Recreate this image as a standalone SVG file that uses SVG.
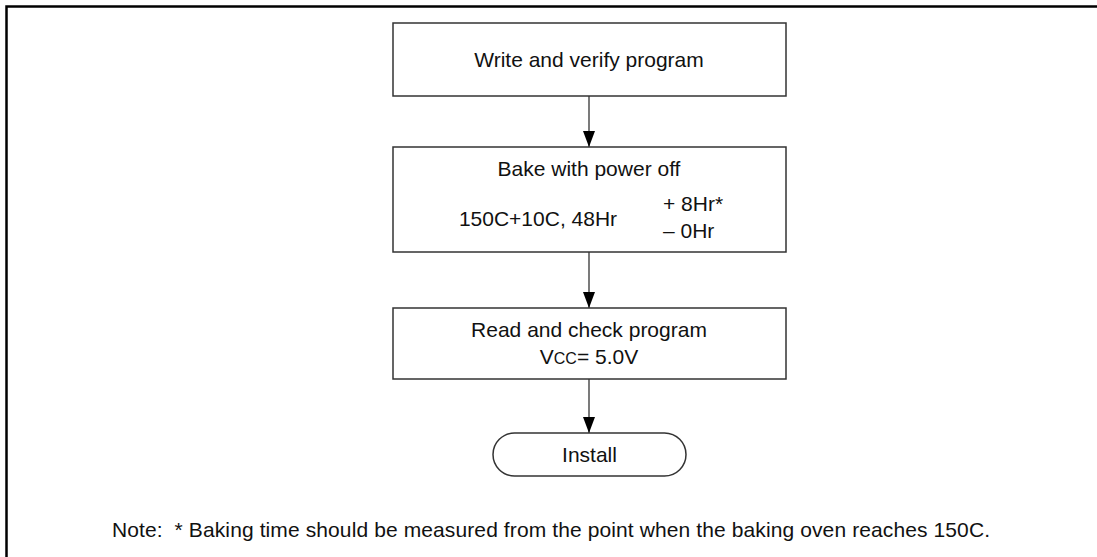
<svg xmlns="http://www.w3.org/2000/svg" width="1097" height="557" viewBox="0 0 1097 557">
<style>
.box{fill:#fff;stroke:#333;stroke-width:1.5}
.t{font-family:"Liberation Sans",Arial,sans-serif;font-size:21px;fill:#111}
.c{stroke:#333;stroke-width:1.3;fill:none}
</style>
<defs>
<marker id="ah" viewBox="0 0 16 12" refX="16" refY="6" markerWidth="16" markerHeight="12" markerUnits="userSpaceOnUse" orient="auto">
<path d="M0,0 L16,6 L0,12 Z" fill="#000"/>
</marker>
</defs>
<rect width="1097" height="557" fill="#fff"/>
<g id="frame">
<path d="M6.5,557 V6.5 H1097" fill="none" stroke="#000" stroke-width="2.5"/>
</g>
<g id="connectors">
<line class="c" x1="589" y1="96" x2="589" y2="147" marker-end="url(#ah)"/>
<line class="c" x1="589" y1="252" x2="589" y2="308" marker-end="url(#ah)"/>
<line class="c" x1="589" y1="379" x2="589" y2="433" marker-end="url(#ah)"/>
</g>
<g id="write">
<rect class="box" x="393" y="23" width="393" height="73"/>
<text class="t" x="589" y="67" text-anchor="middle">Write and verify program</text>
</g>
<g id="bake">
<rect class="box" x="393" y="147" width="393" height="105"/>
<text class="t" x="589" y="176" text-anchor="middle">Bake with power off</text>
<text class="t" x="538" y="226" text-anchor="middle">150C+10C, 48Hr</text>
<text class="t" x="663" y="211">+ 8Hr*</text>
<text class="t" x="663" y="238">– 0Hr</text>
</g>
<g id="read">
<rect class="box" x="393" y="308" width="393" height="71"/>
<text class="t" x="589" y="337" text-anchor="middle">Read and check program</text>
<text class="t" x="589" y="364" text-anchor="middle">V<tspan font-size="16">CC</tspan>= 5.0V</text>
</g>
<g id="install">
<rect class="box" x="493" y="433" width="193" height="43" rx="21.5" ry="21.5"/>
<text class="t" x="589.5" y="462" text-anchor="middle">Install</text>
</g>
<g id="note">
<text class="t" x="112" y="537" xml:space="preserve" textLength="878" lengthAdjust="spacing">Note:  * Baking time should be measured from the point when the baking oven reaches 150C.</text>
</g>
</svg>
